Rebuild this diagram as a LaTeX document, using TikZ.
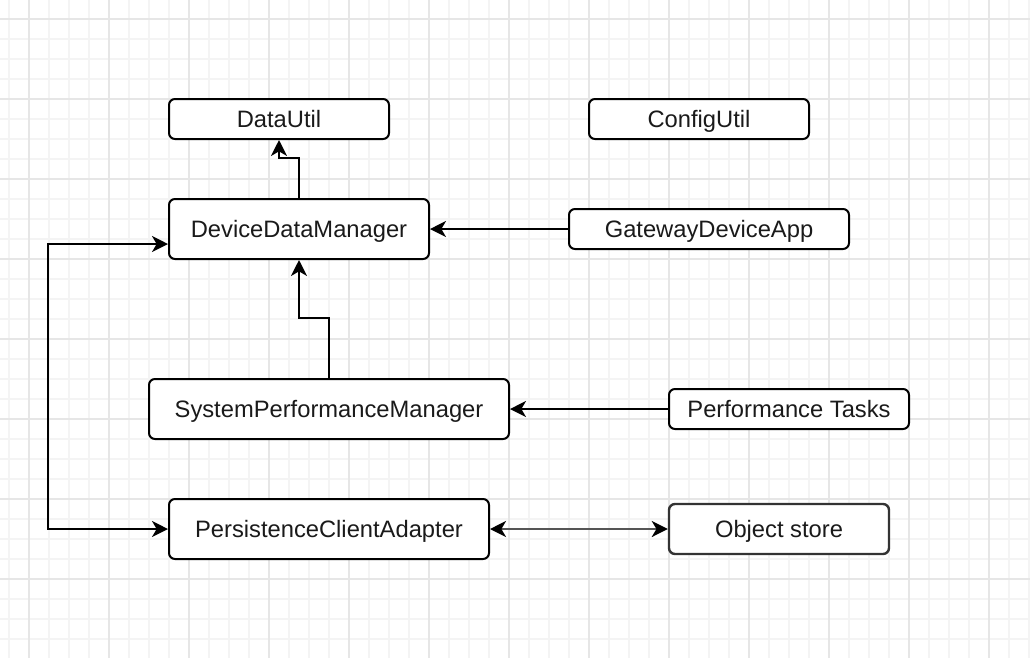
\documentclass[tikz,border=0pt]{standalone}
\usepackage{fontspec}
\setmainfont{Liberation Sans}
\usetikzlibrary{arrows.meta,calc}
\definecolor{gridminor}{HTML}{F4F4F4}
\definecolor{gridmajor}{HTML}{E6E6E6}
\definecolor{txt}{HTML}{1A1A1A}
\definecolor{darkline}{HTML}{555555}
\begin{document}
\begin{tikzpicture}[x=0.75pt,y=-0.75pt,
  box/.style={draw=black,line width=1.5pt,rounded corners=4.5pt,fill=white,
    inner sep=0pt,text=txt,font=\fontsize{17.8pt}{21pt}\selectfont,
    text height=16pt,text depth=3.26pt},
  conn/.style={draw=black,line width=1.5pt,-{Stealth[length=12pt,width=12pt,inset=3.5pt]}},
  conn2/.style={draw=black,line width=1.5pt,{Stealth[length=12pt,width=12pt,inset=3.5pt]}-{Stealth[length=12pt,width=12pt,inset=3.5pt]}},
  conn3/.style={draw=darkline,line width=2.2pt,{Stealth[length=12pt,width=12pt,inset=3.5pt,color=black]}-{Stealth[length=12pt,width=12pt,inset=3.5pt,color=black]}}]
\useasboundingbox (0,0) rectangle (1030,658);
\fill[white] (0,0) rectangle (1030,658);
% grid
\foreach \x in {9,29,...,1029} \draw[gridminor,line width=1.2pt] (\x,0) -- (\x,658);
\foreach \y in {19,39,...,658} \draw[gridminor,line width=1.2pt] (0,\y) -- (1030,\y);
\foreach \x in {29,109,...,1029} \draw[gridmajor,line width=1.4pt] (\x,0) -- (\x,658);
\foreach \y in {19,99,...,658} \draw[gridmajor,line width=1.4pt] (0,\y) -- (1030,\y);
% nodes
\node[box,minimum width=165pt,minimum height=30pt] (du) at (279,119) {DataUtil};
\node[box,minimum width=165pt,minimum height=30pt] (cu) at (699,119) {ConfigUtil};
\node[box,minimum width=195pt,minimum height=45pt] (ddm) at (299,229) {DeviceDataManager};
\node[box,minimum width=210pt,minimum height=30pt] (gda) at (709,229) {GatewayDeviceApp};
\node[box,minimum width=270pt,minimum height=45pt] (spm) at (329,409) {SystemPerformanceManager};
\node[box,minimum width=180pt,minimum height=30pt] (pt) at (789,409) {Performance Tasks};
\node[box,minimum width=240pt,minimum height=45pt] (pca) at (329,529) {PersistenceClientAdapter};
\node[box,draw=darkline!60!black,line width=1.8pt,minimum width=165pt,minimum height=37.5pt] (os) at (779,529) {Object store};
% connectors
\draw[conn] (ddm.north) -- ++(0,-40) -| (du.south);
\draw[conn] (gda.west) -- (ddm.east);
\draw[conn] (spm.north) -- ++(0,-60) -| (ddm.south);
\draw[conn] (pt.west) -- (spm.east);
\draw[conn2] ($(ddm.west)+(0,15)$) -- ++(-120,0) |- (pca.west);
\draw[conn3] (pca.east) -- (os.west);
\end{tikzpicture}
\end{document}
